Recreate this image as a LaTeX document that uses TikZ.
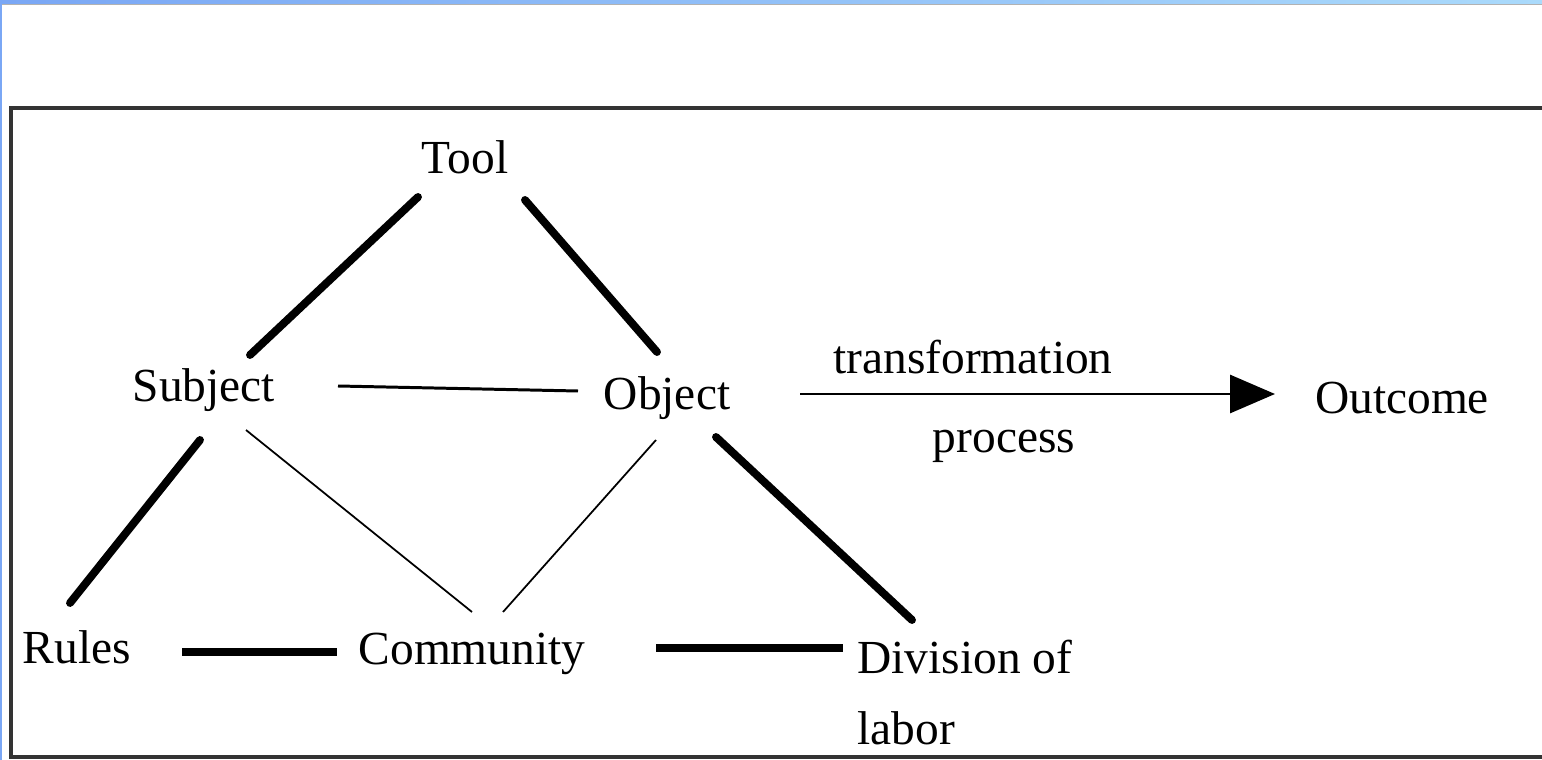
\documentclass[tikz,border=0pt]{standalone}
\usepackage{fontspec}
\setmainfont{Liberation Serif}
\usepackage{tikz}
\usetikzlibrary{arrows.meta}
\tikzset{>=latex}
\definecolor{barblue}{RGB}{122,167,245}
\definecolor{barlight}{RGB}{170,218,251}
\tikzstyle{lbl} = [draw = none, inner sep = 0, font = \fontsize{27}{40}\selectfont]
\tikzstyle{heavy} = [-, line width = 4.5pt, line cap = round]
\tikzstyle{midline} = [-, line width = 1.7pt]
\tikzstyle{light} = [-, line width = 1pt]

\begin{document}
\begin{tikzpicture}[x = 0.02cm, y = -0.02cm]
\useasboundingbox (0, 0) rectangle (1542, 760);
\clip (0, 0) rectangle (1542, 760);
% window edge and frame
\shade [left color = barblue, right color = barlight] (0, 0) rectangle (1542, 4);
\draw [gray!60, line width = 0.4pt] (0, 4.5) -- (1542, 4.5);
\fill [barblue] (0, 0) rectangle (2, 760);
\draw [line width = 2.3pt, draw = black!80] (11, 108) rectangle (1600, 757);

\node [lbl, anchor = base] (T) at (465, 174) {Tool};
\node [lbl, anchor = base] (S) at (204, 401) {Subject};
\node [lbl, anchor = base] (O) at (667, 409) {Object};
\node [lbl, anchor = base] (Out) at (1402, 413) {Outcome};
\node [lbl, anchor = base] (R) at (77, 663) {Rules};
\node [lbl, anchor = base] (C) at (472, 664) {Community};
\node [lbl, anchor = north west, align = left] (D) at (857, 640) {Division of\\labor};
\node [lbl, anchor = base] (tr) at (973, 373) {transformation};
\node [lbl, anchor = base] (pr) at (1004, 452) {process};

% triangle
\draw [heavy] ([shift = {(-47, 23)}]T.base) to ([shift = {(46, -46)}]S.base);
\draw [heavy] ([shift = {(60, 26)}]T.base) to ([shift = {(-10, -57)}]O.base);
\draw [midline] ([shift = {(134, -15)}]S.base) to ([shift = {(-89, -18)}]O.base);
% lower part
\draw [heavy] ([shift = {(-4, 39)}]S.base) to ([shift = {(-7, -60)}]R.base);
\draw [light] ([shift = {(42, 29)}]S.base) to ([shift = {(0, -52)}]C.base);
\draw [light] ([shift = {(-11, 31)}]O.base) to ([shift = {(31, -52)}]C.base);
\draw [heavy] ([shift = {(49, 28)}]O.base) to ([shift = {(55, -20)}]D.north west);
\draw [heavy, line cap = butt] ([shift = {(105, -11)}]R.base) to ([shift = {(-135, -12)}]C.base);
\draw [heavy, line cap = butt] ([shift = {(184, -16)}]C.base) to ([shift = {(-14, 8)}]D.north west);
% transformation arrow
\draw [midline, -{Triangle[length = 0.9cm, width = 0.76cm]}] ([shift = {(133, -15)}]O.base) to ([shift = {(-127, -19)}]Out.base);
\end{tikzpicture}
\end{document}
